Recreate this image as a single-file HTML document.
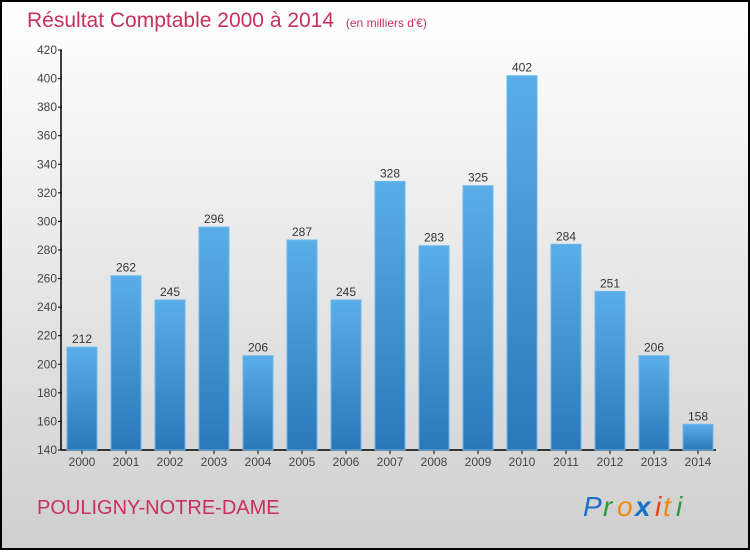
<!DOCTYPE html>
<html><head><meta charset="utf-8"><style>
html,body{margin:0;padding:0}
body{width:750px;height:550px;overflow:hidden;font-family:"Liberation Sans",sans-serif}
#frame{position:absolute;left:0;top:0;width:746px;height:546px;border:2px solid #000;background:linear-gradient(#ffffff,#cfcfcf)}
</style></head><body>
<div id="frame">
<svg width="746" height="546" viewBox="2 2 746 546" xmlns="http://www.w3.org/2000/svg">
<defs><linearGradient id="bg" x1="0" y1="0" x2="0" y2="1"><stop offset="0" stop-color="#5aaee8"/><stop offset="1" stop-color="#2a78b8"/></linearGradient></defs>
<text x="27" y="27" font-size="21" fill="#c8305e">Résultat Comptable 2000 à 2014 <tspan font-size="12" dx="6">(en milliers d'€)</tspan></text>
<g id="axes"></g><g id="bars"></g>
<text x="37" y="514" font-size="20" fill="#c8305e">POULIGNY-NOTRE-DAME</text>
<g font-size="28" font-family="Liberation Sans, sans-serif" font-style="italic">
<text x="583" y="516" fill="#1a70c8">P</text><text x="603" y="516" fill="#2a9a3a">r</text><text x="617" y="516" fill="#f28a10">o</text><text x="635" y="516" fill="#1a70c8" font-weight="bold">x</text><text x="655" y="516" fill="#e8401a">i</text><text x="663" y="516" fill="#f28a10">t</text><text x="676" y="516" fill="#2a9a3a">i</text>
</g>
</svg></div>
<script>
const years=["2000","2001","2002","2003","2004","2005","2006","2007","2008","2009","2010","2011","2012","2013","2014"];
const values=[212,262,245,296,206,287,245,328,283,325,402,284,251,206,158];
const ticks=[140,160,180,200,220,240,260,280,300,320,340,360,380,400,420];
const NS="http://www.w3.org/2000/svg";
const y0=450,yTop=50,vMin=140,vMax=420;
function yS(v){return y0-(v-vMin)/(vMax-vMin)*(y0-yTop);}
function xS(i){return 67+44*i;}
function mk(t,a,p){const e=document.createElementNS(NS,t);for(const k in a)e.setAttribute(k,a[k]);p.appendChild(e);return e;}
const ax=document.getElementById('axes'),bs=document.getElementById('bars');
let l=mk('line',{x1:61,y1:yTop,x2:61,y2:y0,stroke:'#000','stroke-width':1.5},ax);


l=mk('line',{x1:61,y1:y0,x2:716,y2:y0,stroke:'#000','stroke-width':1.5},ax);


ticks.forEach(t=>{const y=yS(t);
mk('line',{x1:58,y1:y,x2:62,y2:y,stroke:'#000'},ax);
const tx=mk('text',{x:57,y:y+4,'font-size':12,'text-anchor':'end',fill:'#444'},ax);tx.textContent=t;

});
years.forEach((yr,i)=>{const x=xS(i),v=values[i],y=yS(v);
const r=mk('rect',{x:x,y:y,width:30,height:y0-y,fill:'url(#bg)',stroke:'#6ab8ee','stroke-width':1},bs);


const vt=mk('text',{x:x+15,y:y-4,'font-size':12,'text-anchor':'middle',fill:'#333'},bs);vt.textContent=v;


mk('line',{x1:x+15,y1:y0,x2:x+15,y2:y0+4,stroke:'#000'},ax);
const xt=mk('text',{x:x+15,y:y0+16,'font-size':12,'text-anchor':'middle',fill:'#444'},ax);xt.textContent=yr;

});
</script>
</body></html>
